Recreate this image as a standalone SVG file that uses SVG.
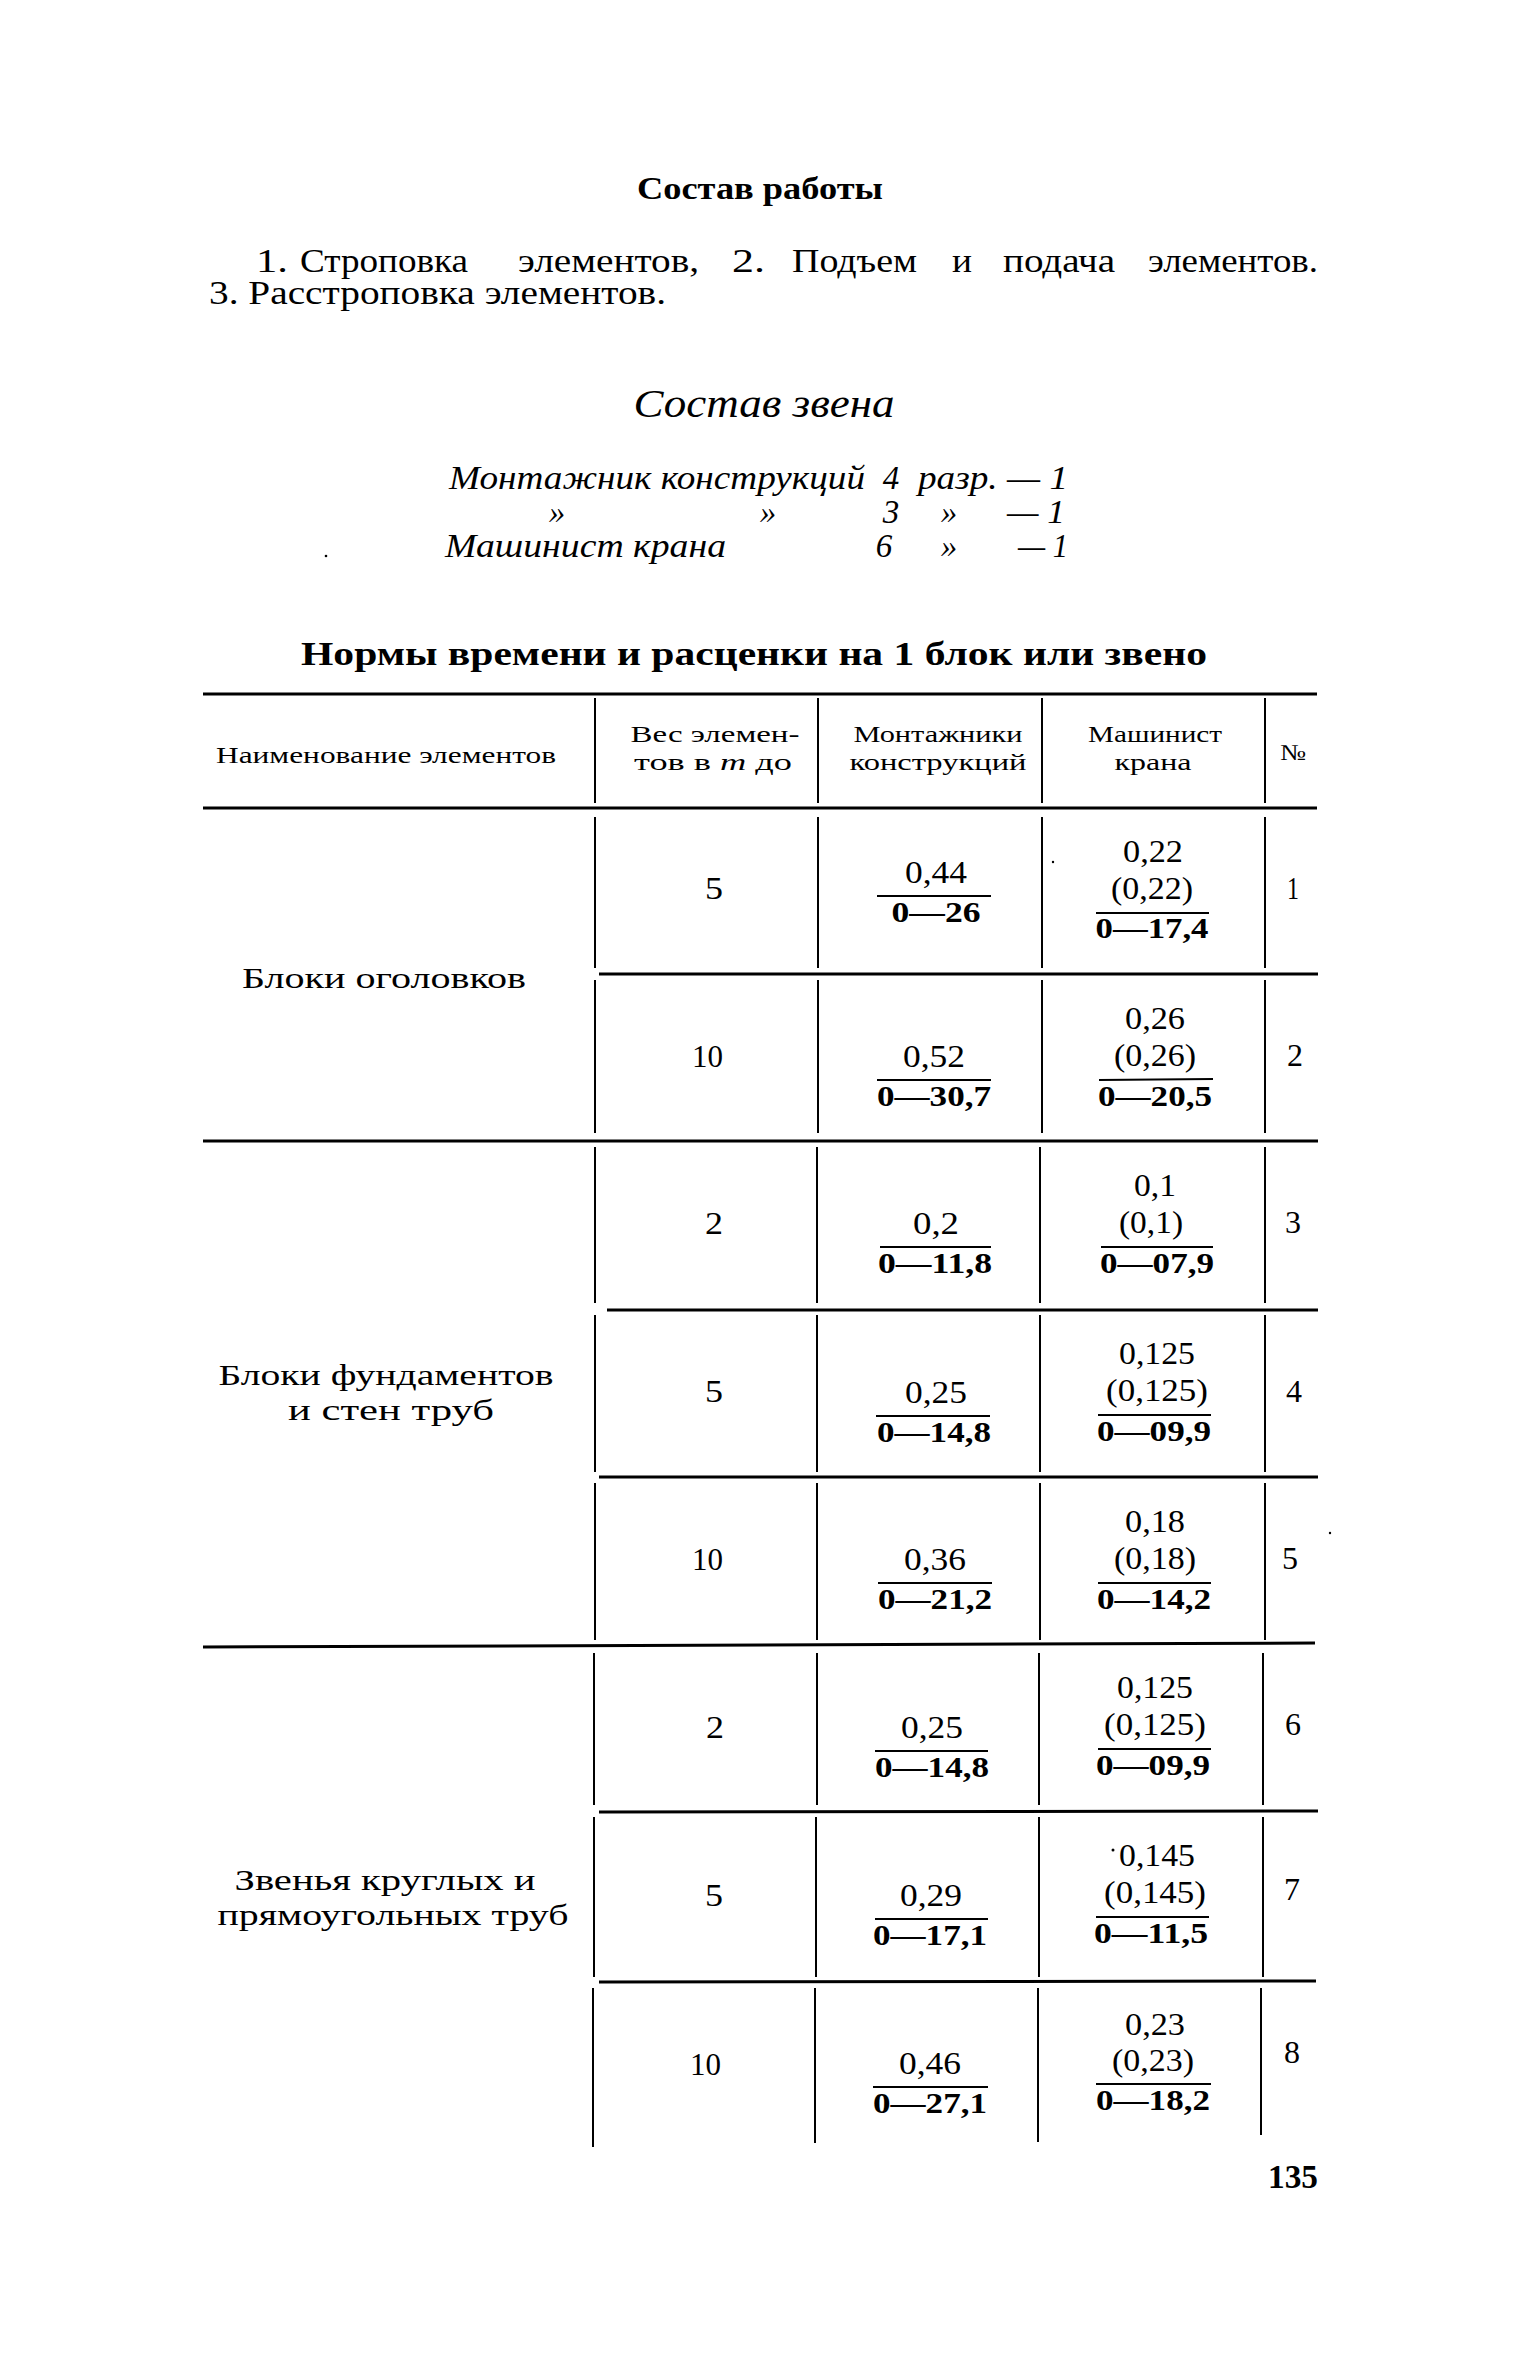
<svg xmlns="http://www.w3.org/2000/svg" width="1535" height="2362" viewBox="0 0 1535 2362">
<style>
text{font-family:"Liberation Serif","Times New Roman",serif;fill:#000}
.b{font-weight:bold}
.i{font-style:italic}
.t{font-size:33px}
.cr{font-size:33px;font-style:italic}
.h{font-size:23px}
.lab{font-size:29px}
.n{font-size:32px}
.d{font-size:30px;font-weight:bold;text-anchor:middle}
.m{text-anchor:middle}
.e{text-anchor:end}
.hl{stroke:#000;stroke-width:3;fill:none}
.vl{stroke:#000;stroke-width:2;fill:none}
.fl{stroke:#000;stroke-width:2;fill:none}
</style>
<rect width="1535" height="2362" fill="#fff"/>

<g id="intro">
<text class="b m" style="font-size:32px" x="760" y="199" textLength="246" lengthAdjust="spacingAndGlyphs">Состав работы</text>
<text class="t" x="256" y="272" textLength="32" lengthAdjust="spacingAndGlyphs">1.</text>
<text class="t" x="300" y="272" textLength="168" lengthAdjust="spacingAndGlyphs">Строповка</text>
<text class="t" x="518" y="272" textLength="181" lengthAdjust="spacingAndGlyphs">элементов,</text>
<text class="t" x="732" y="272" textLength="33" lengthAdjust="spacingAndGlyphs">2.</text>
<text class="t" x="792" y="272" textLength="125" lengthAdjust="spacingAndGlyphs">Подъем</text>
<text class="t" x="952" y="272" textLength="20" lengthAdjust="spacingAndGlyphs">и</text>
<text class="t" x="1003" y="272" textLength="112" lengthAdjust="spacingAndGlyphs">подача</text>
<text class="t" x="1148" y="272" textLength="170" lengthAdjust="spacingAndGlyphs">элементов.</text>
<text class="t" x="209" y="304" textLength="457" lengthAdjust="spacingAndGlyphs">3. Расстроповка элементов.</text>
</g>

<g id="crew">
<text class="i m" style="font-size:40px" x="764" y="417" textLength="261" lengthAdjust="spacingAndGlyphs">Состав звена</text>
<text class="cr" x="449" y="489" textLength="416" lengthAdjust="spacingAndGlyphs">Монтажник конструкций</text>
<text class="cr m" x="891" y="489">4</text>
<text class="cr" x="918" y="489" textLength="150" lengthAdjust="spacingAndGlyphs">разр. — 1</text>
<text class="cr m" x="557" y="523">»</text>
<text class="cr m" x="768" y="523">»</text>
<text class="cr m" x="891" y="523">3</text>
<text class="cr m" x="949" y="523">»</text>
<text class="cr" x="1007" y="523" textLength="58" lengthAdjust="spacingAndGlyphs">— 1</text>
<text class="cr" x="445" y="557" textLength="281" lengthAdjust="spacingAndGlyphs">Машинист крана</text>
<text class="cr m" x="884" y="557">6</text>
<text class="cr m" x="949" y="557">»</text>
<text class="cr" x="1018" y="557" textLength="50" lengthAdjust="spacingAndGlyphs">— 1</text>
<circle cx="326" cy="556" r="1.3" fill="#000"/>
</g>

<g id="table-title">
<text class="b m" style="font-size:34px" x="754" y="665" textLength="906" lengthAdjust="spacingAndGlyphs">Нормы времени и расценки на 1 блок или звено</text>
</g>

<g id="connectors">
<line class="hl" x1="203" y1="694" x2="1317" y2="694"/>
<line class="hl" x1="203" y1="808" x2="1317" y2="808"/>
<line class="hl" x1="599" y1="974" x2="1318" y2="974"/>
<line class="hl" x1="203" y1="1141" x2="1318" y2="1141"/>
<line class="hl" x1="607" y1="1310" x2="1318" y2="1310"/>
<line class="hl" x1="599" y1="1477" x2="1318" y2="1477"/>
<line class="hl" x1="203" y1="1647" x2="1315" y2="1643"/>
<line class="hl" x1="599" y1="1812" x2="1318" y2="1811"/>
<line class="hl" x1="599" y1="1982" x2="1316" y2="1981"/>
<path class="vl" d="M595 698V803M818 698V803M1042 698V803M1265 698V803"/>
<path class="vl" d="M595 817V968M818 817V968M1042 817V968M1265 817V968"/>
<path class="vl" d="M595 980V1133M818 980V1133M1042 980V1133M1265 980V1133"/>
<path class="vl" d="M595 1147V1303M817 1147V1303M1040 1147V1303M1265 1147V1303"/>
<path class="vl" d="M595 1315V1472M817 1315V1472M1040 1315V1472M1265 1315V1472"/>
<path class="vl" d="M595 1483V1640M817 1483V1640M1040 1483V1640M1265 1483V1640"/>
<path class="vl" d="M594 1653V1805M817 1653V1805M1039 1653V1805M1263 1653V1805"/>
<path class="vl" d="M594 1817V1977M816 1817V1977M1039 1817V1977M1263 1817V1977"/>
<path class="vl" d="M593 1988V2147M815 1988V2143M1038 1988V2142M1261 1988V2135"/>
</g>

<g id="header">
<text class="h m" x="386" y="763" textLength="340" lengthAdjust="spacingAndGlyphs">Наименование элементов</text>
<text class="h m" x="715" y="742" textLength="169" lengthAdjust="spacingAndGlyphs">Вес элемен-</text>
<text class="h m" x="713" y="770" textLength="158" lengthAdjust="spacingAndGlyphs">тов в <tspan class="i">т</tspan> до</text>
<text class="h m" x="938" y="742" textLength="169" lengthAdjust="spacingAndGlyphs">Монтажники</text>
<text class="h m" x="938" y="770" textLength="177" lengthAdjust="spacingAndGlyphs">конструкций</text>
<text class="h m" x="1155" y="742" textLength="134" lengthAdjust="spacingAndGlyphs">Машинист</text>
<text class="h m" x="1153" y="770" textLength="77" lengthAdjust="spacingAndGlyphs">крана</text>
<text class="h m" x="1293" y="760" textLength="26" lengthAdjust="spacingAndGlyphs">№</text>
</g>

<g id="group-1">
<text class="lab m" x="384" y="988" textLength="284" lengthAdjust="spacingAndGlyphs">Блоки оголовков</text>
</g>
<g id="group-2">
<text class="lab m" x="386" y="1385" textLength="335" lengthAdjust="spacingAndGlyphs">Блоки фундаментов</text>
<text class="lab m" x="391" y="1420" textLength="206" lengthAdjust="spacingAndGlyphs">и стен труб</text>
</g>
<g id="group-3">
<text class="lab m" x="385" y="1890" textLength="301" lengthAdjust="spacingAndGlyphs">Звенья круглых и</text>
<text class="lab m" x="393" y="1925" textLength="351" lengthAdjust="spacingAndGlyphs">прямоугольных труб</text>
</g>

<g id="row-1">
<text class="n e" x="723" y="899" textLength="18" lengthAdjust="spacingAndGlyphs">5</text>
<text class="n m" x="936" y="883" textLength="62" lengthAdjust="spacingAndGlyphs">0,44</text>
<line class="fl" x1="877" y1="896" x2="991" y2="896"/>
<text class="d" x="936" y="922" textLength="89" lengthAdjust="spacingAndGlyphs">0—26</text>
<text class="n m" x="1153" y="862" textLength="60" lengthAdjust="spacingAndGlyphs">0,22</text>
<text class="n m" x="1152" y="899" textLength="82" lengthAdjust="spacingAndGlyphs">(0,22)</text>
<line class="fl" x1="1096" y1="913" x2="1209" y2="913"/>
<text class="d" x="1152" y="938" textLength="113" lengthAdjust="spacingAndGlyphs">0—17,4</text>
<text class="n m" x="1293" y="899" textLength="12" lengthAdjust="spacingAndGlyphs">1</text>
<circle cx="1053" cy="862" r="1.2" fill="#000"/>
</g>

<g id="row-2">
<text class="n e" x="723" y="1067" textLength="31" lengthAdjust="spacingAndGlyphs">10</text>
<text class="n m" x="934" y="1067" textLength="62" lengthAdjust="spacingAndGlyphs">0,52</text>
<line class="fl" x1="877" y1="1080" x2="991" y2="1080"/>
<text class="d" x="934" y="1106" textLength="114" lengthAdjust="spacingAndGlyphs">0—30,7</text>
<text class="n m" x="1155" y="1029" textLength="60" lengthAdjust="spacingAndGlyphs">0,26</text>
<text class="n m" x="1155" y="1066" textLength="82" lengthAdjust="spacingAndGlyphs">(0,26)</text>
<line class="fl" x1="1099" y1="1080" x2="1213" y2="1079"/>
<text class="d" x="1155" y="1106" textLength="114" lengthAdjust="spacingAndGlyphs">0—20,5</text>
<text class="n m" x="1295" y="1066" textLength="16" lengthAdjust="spacingAndGlyphs">2</text>
</g>

<g id="row-3">
<text class="n e" x="723" y="1234" textLength="18" lengthAdjust="spacingAndGlyphs">2</text>
<text class="n m" x="936" y="1234" textLength="46" lengthAdjust="spacingAndGlyphs">0,2</text>
<line class="fl" x1="880" y1="1247" x2="991" y2="1247"/>
<text class="d" x="935" y="1273" textLength="114" lengthAdjust="spacingAndGlyphs">0—11,8</text>
<text class="n m" x="1155" y="1196" textLength="42" lengthAdjust="spacingAndGlyphs">0,1</text>
<text class="n m" x="1151" y="1233" textLength="64" lengthAdjust="spacingAndGlyphs">(0,1)</text>
<line class="fl" x1="1101" y1="1247" x2="1213" y2="1247"/>
<text class="d" x="1157" y="1273" textLength="114" lengthAdjust="spacingAndGlyphs">0—07,9</text>
<text class="n m" x="1293" y="1233" textLength="16" lengthAdjust="spacingAndGlyphs">3</text>
</g>

<g id="row-4">
<text class="n e" x="723" y="1402" textLength="18" lengthAdjust="spacingAndGlyphs">5</text>
<text class="n m" x="936" y="1403" textLength="62" lengthAdjust="spacingAndGlyphs">0,25</text>
<line class="fl" x1="876" y1="1416" x2="990" y2="1416"/>
<text class="d" x="934" y="1442" textLength="114" lengthAdjust="spacingAndGlyphs">0—14,8</text>
<text class="n m" x="1157" y="1364" textLength="76" lengthAdjust="spacingAndGlyphs">0,125</text>
<text class="n m" x="1157" y="1401" textLength="102" lengthAdjust="spacingAndGlyphs">(0,125)</text>
<line class="fl" x1="1098" y1="1415" x2="1211" y2="1415"/>
<text class="d" x="1154" y="1441" textLength="114" lengthAdjust="spacingAndGlyphs">0—09,9</text>
<text class="n m" x="1294" y="1402" textLength="16" lengthAdjust="spacingAndGlyphs">4</text>
</g>

<g id="row-5">
<text class="n e" x="723" y="1570" textLength="31" lengthAdjust="spacingAndGlyphs">10</text>
<text class="n m" x="935" y="1570" textLength="62" lengthAdjust="spacingAndGlyphs">0,36</text>
<line class="fl" x1="878" y1="1583" x2="992" y2="1583"/>
<text class="d" x="935" y="1609" textLength="114" lengthAdjust="spacingAndGlyphs">0—21,2</text>
<text class="n m" x="1155" y="1532" textLength="60" lengthAdjust="spacingAndGlyphs">0,18</text>
<text class="n m" x="1155" y="1569" textLength="82" lengthAdjust="spacingAndGlyphs">(0,18)</text>
<line class="fl" x1="1098" y1="1583" x2="1211" y2="1583"/>
<text class="d" x="1154" y="1609" textLength="114" lengthAdjust="spacingAndGlyphs">0—14,2</text>
<text class="n m" x="1290" y="1569" textLength="16" lengthAdjust="spacingAndGlyphs">5</text>
<circle cx="1330" cy="1533" r="1.2" fill="#000"/>
</g>

<g id="row-6">
<text class="n e" x="724" y="1738" textLength="18" lengthAdjust="spacingAndGlyphs">2</text>
<text class="n m" x="932" y="1738" textLength="62" lengthAdjust="spacingAndGlyphs">0,25</text>
<line class="fl" x1="875" y1="1751" x2="988" y2="1751"/>
<text class="d" x="932" y="1777" textLength="114" lengthAdjust="spacingAndGlyphs">0—14,8</text>
<text class="n m" x="1155" y="1698" textLength="76" lengthAdjust="spacingAndGlyphs">0,125</text>
<text class="n m" x="1155" y="1735" textLength="102" lengthAdjust="spacingAndGlyphs">(0,125)</text>
<line class="fl" x1="1098" y1="1749" x2="1211" y2="1749"/>
<text class="d" x="1153" y="1775" textLength="114" lengthAdjust="spacingAndGlyphs">0—09,9</text>
<text class="n m" x="1293" y="1735" textLength="16" lengthAdjust="spacingAndGlyphs">6</text>
</g>

<g id="row-7">
<text class="n e" x="723" y="1906" textLength="18" lengthAdjust="spacingAndGlyphs">5</text>
<text class="n m" x="931" y="1906" textLength="62" lengthAdjust="spacingAndGlyphs">0,29</text>
<line class="fl" x1="875" y1="1919" x2="988" y2="1919"/>
<text class="d" x="930" y="1945" textLength="114" lengthAdjust="spacingAndGlyphs">0—17,1</text>
<circle cx="1113" cy="1850" r="1.5" fill="#000"/>
<text class="n m" x="1157" y="1866" textLength="76" lengthAdjust="spacingAndGlyphs">0,145</text>
<text class="n m" x="1155" y="1903" textLength="102" lengthAdjust="spacingAndGlyphs">(0,145)</text>
<line class="fl" x1="1096" y1="1917" x2="1209" y2="1917"/>
<text class="d" x="1151" y="1943" textLength="114" lengthAdjust="spacingAndGlyphs">0—11,5</text>
<text class="n m" x="1292" y="1900" textLength="16" lengthAdjust="spacingAndGlyphs">7</text>
</g>

<g id="row-8">
<text class="n e" x="721" y="2075" textLength="31" lengthAdjust="spacingAndGlyphs">10</text>
<text class="n m" x="930" y="2074" textLength="62" lengthAdjust="spacingAndGlyphs">0,46</text>
<line class="fl" x1="873" y1="2087" x2="988" y2="2087"/>
<text class="d" x="930" y="2113" textLength="114" lengthAdjust="spacingAndGlyphs">0—27,1</text>
<text class="n m" x="1155" y="2035" textLength="60" lengthAdjust="spacingAndGlyphs">0,23</text>
<text class="n m" x="1153" y="2071" textLength="82" lengthAdjust="spacingAndGlyphs">(0,23)</text>
<line class="fl" x1="1096" y1="2084" x2="1211" y2="2084"/>
<text class="d" x="1153" y="2110" textLength="114" lengthAdjust="spacingAndGlyphs">0—18,2</text>
<text class="n m" x="1292" y="2063" textLength="16" lengthAdjust="spacingAndGlyphs">8</text>
</g>

<g id="page-number">
<text class="b e" style="font-size:34px" x="1318" y="2188" textLength="50" lengthAdjust="spacingAndGlyphs">135</text>
</g>
</svg>
